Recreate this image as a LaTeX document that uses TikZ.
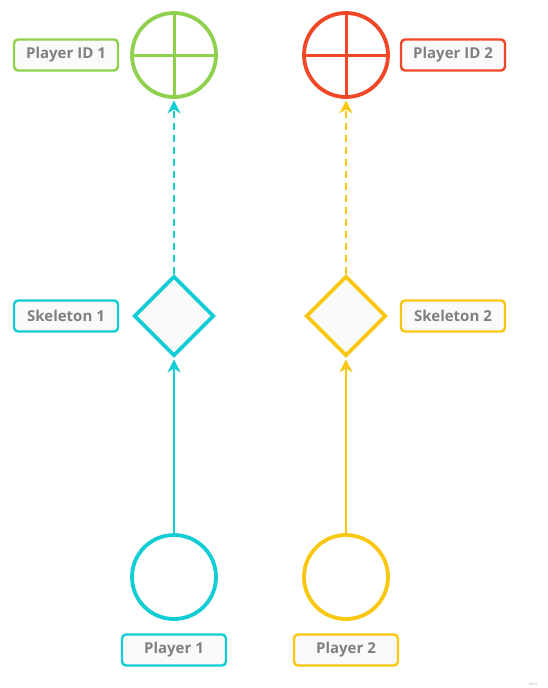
\documentclass[tikz,border=0pt]{standalone}
\usepackage{fontspec}
\setmainfont{Open Sans}
\usetikzlibrary{shapes.geometric,arrows.meta}
\definecolor{mcyan}{HTML}{12CDD4}
\definecolor{myellow}{HTML}{FAC710}
\definecolor{mgreen}{HTML}{8FD14F}
\definecolor{mred}{HTML}{F24726}
\definecolor{mtext}{HTML}{808080}
\definecolor{mfill}{HTML}{FAFAFA}
\tikzset{
  tip/.tip={Stealth[length=13pt, width=13pt, inset=4pt]}
}
\begin{document}
\begin{tikzpicture}[x=1pt, y=-1pt,
  tag/.style={draw=#1, line width=2.4pt, rounded corners=4pt, fill=mfill,
    minimum width=104pt, minimum height=31pt, text=mtext,
    font=\bfseries\fontsize{15}{17}\selectfont},
  pid/.style={circle, draw=#1, line width=3.8pt, fill=white, minimum size=84pt, inner sep=0pt},
  skel/.style={diamond, draw=#1, line width=3.8pt, fill=mfill, minimum size=80pt, inner sep=0pt},
  link/.style={draw=#1, line width=1.8pt, shorten >=1.5pt, -tip}]
\useasboundingbox (0,0) rectangle (547,688);

% Player ID targets
\node[pid=mgreen] (id1) at (174,55) {};
\draw[mgreen, line width=3pt] (id1.north) -- (id1.south) (id1.west) -- (id1.east);
\node[pid=mred] (id2) at (346,55) {};
\draw[mred, line width=3pt] (id2.north) -- (id2.south) (id2.west) -- (id2.east);
\node[tag=mgreen] (lid1) at (66,55) {Player ID 1};
\node[tag=mred] (lid2) at (453,55) {Player ID 2};

% Skeletons
\node[skel=mcyan] (sk1) at (174,316) {};
\node[skel=myellow] (sk2) at (346,316) {};
\node[tag=mcyan] (lsk1) at (66,316) {Skeleton 1};
\node[tag=myellow] (lsk2) at (453,316) {Skeleton 2};

% Players
\node[pid=mcyan] (p1) at (174,577) {};
\node[pid=myellow] (p2) at (346,577) {};
\node[tag=mcyan] (lp1) at (174,650) {Player 1};
\node[tag=myellow] (lp2) at (346,650) {Player 2};

% Links
\draw[link=mcyan] (p1) -- (sk1);
\draw[link=myellow] (p2) -- (sk2);
\draw[link=mcyan, dash pattern=on 7pt off 5pt] (sk1) -- (id1);
\draw[link=myellow, dash pattern=on 7pt off 5pt] (sk2) -- (id2);

\node[text=mtext!60, font=\fontsize{4}{4}\selectfont] (wm) at (533,684) {miro};
\end{tikzpicture}
\end{document}
